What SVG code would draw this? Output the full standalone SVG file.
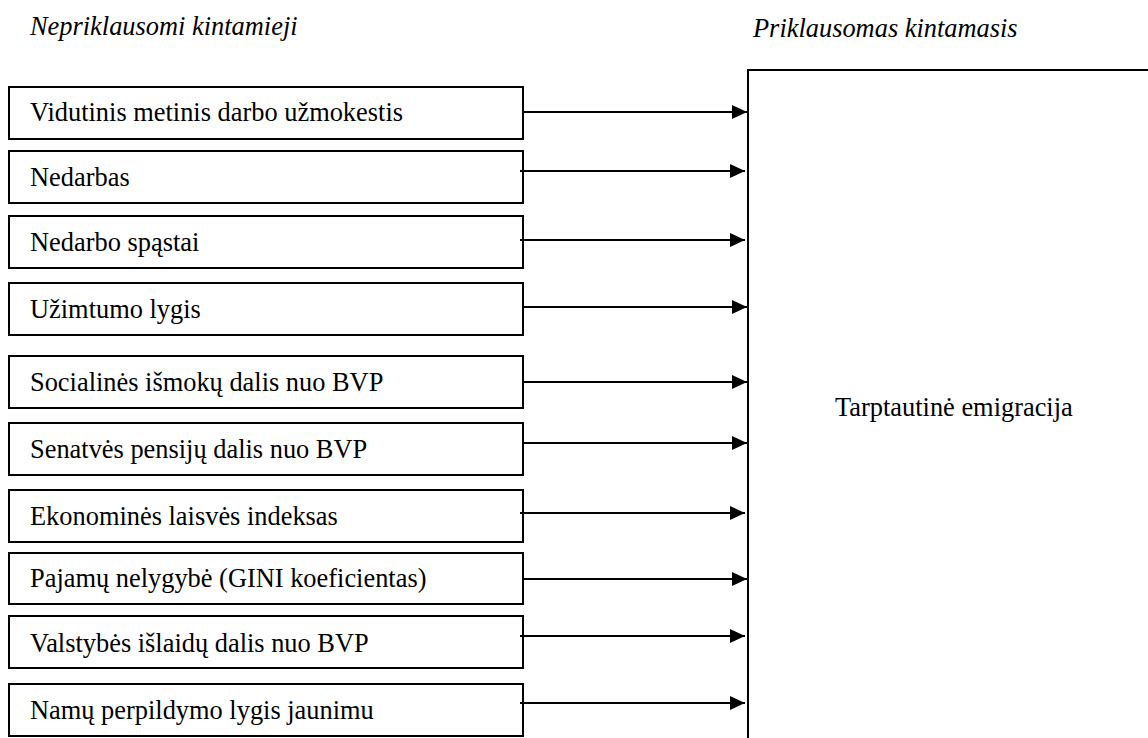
<svg xmlns="http://www.w3.org/2000/svg" width="1148" height="738" viewBox="0 0 1148 738">
<style>
.box{fill:#fff;stroke:#000;stroke-width:2}
.t{font-family:"Liberation Serif","Times New Roman",serif;font-size:26.4px;fill:#000}
.h{font-family:"Liberation Serif","Times New Roman",serif;font-size:26.4px;font-style:italic;fill:#000}
.c{stroke:#000;stroke-width:2;fill:none;marker-end:url(#ah)}
</style>
<defs>
<marker id="ah" markerUnits="userSpaceOnUse" markerWidth="16" markerHeight="16" refX="15" refY="7" orient="auto">
<path d="M0,0 L15,7 L0,14 Z" fill="#000"/>
</marker>
</defs>
<rect width="1148" height="738" fill="#fff"/>
<text class="h" x="30" y="35">Nepriklausomi kintamieji</text>
<text class="h" x="753" y="37">Priklausomas kintamasis</text>
<g id="target">
<rect class="box" x="748" y="70" width="420" height="700"/>
<text class="t" x="835" y="416">Tarptautinė emigracija</text>
</g>
<g id="n1"><rect class="box" x="9" y="87" width="514" height="52"/><text class="t" x="30" y="121">Vidutinis metinis darbo užmokestis</text></g>
<g id="n2"><rect class="box" x="9" y="151" width="514" height="52"/><text class="t" x="30" y="186">Nedarbas</text></g>
<g id="n3"><rect class="box" x="9" y="216" width="514" height="52"/><text class="t" x="30" y="251">Nedarbo spąstai</text></g>
<g id="n4"><rect class="box" x="9" y="283" width="514" height="52"/><text class="t" x="30" y="318">Užimtumo lygis</text></g>
<g id="n5"><rect class="box" x="9" y="356" width="514" height="52"/><text class="t" x="30" y="391">Socialinės išmokų dalis nuo BVP</text></g>
<g id="n6"><rect class="box" x="9" y="423" width="514" height="52"/><text class="t" x="30" y="458">Senatvės pensijų dalis nuo BVP</text></g>
<g id="n7"><rect class="box" x="9" y="490" width="514" height="52"/><text class="t" x="30" y="525">Ekonominės laisvės indeksas</text></g>
<g id="n8"><rect class="box" x="9" y="553" width="514" height="51"/><text class="t" x="30" y="587">Pajamų nelygybė (GINI koeficientas)</text></g>
<g id="n9"><rect class="box" x="9" y="616" width="514" height="52"/><text class="t" x="30" y="652">Valstybės išlaidų dalis nuo BVP</text></g>
<g id="n10"><rect class="box" x="9" y="684" width="514" height="52"/><text class="t" x="30" y="719">Namų perpildymo lygis jaunimu</text></g>
<g id="connectors">
<line class="c" x1="523" y1="112" x2="747" y2="112"/>
<line class="c" x1="520" y1="171" x2="745" y2="171"/>
<line class="c" x1="520" y1="240" x2="745" y2="240"/>
<line class="c" x1="523" y1="307" x2="747" y2="307"/>
<line class="c" x1="523" y1="382" x2="747" y2="382"/>
<line class="c" x1="523" y1="443" x2="747" y2="443"/>
<line class="c" x1="520" y1="513" x2="745" y2="513"/>
<line class="c" x1="523" y1="579" x2="747" y2="579"/>
<line class="c" x1="520" y1="636" x2="745" y2="636"/>
<line class="c" x1="520" y1="703" x2="745" y2="703"/>
</g>
</svg>
